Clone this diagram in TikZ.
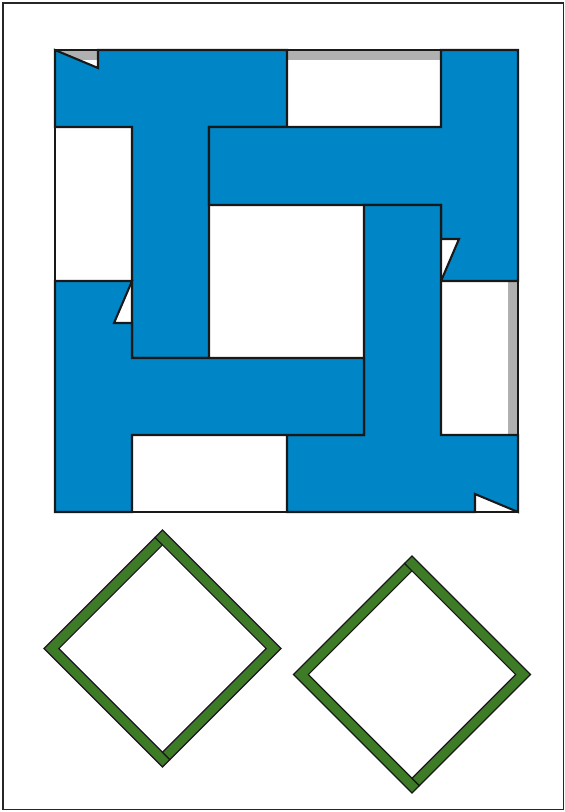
\documentclass[tikz,border=0pt]{standalone}
\usepackage{tikz}
\definecolor{tileblue}{RGB}{0,133,198}
\definecolor{framegreen}{RGB}{62,123,39}
\definecolor{shadowgray}{RGB}{176,176,176}
\tikzset{
  bluepiece/.style={fill=tileblue, draw=black!90, line width=2.1pt, line join=miter},
  graystrip/.style={fill=shadowgray, draw=none},
  greenbar/.style={fill=framegreen, draw=black!90, line width=1.2pt, line join=miter},
  pageframe/.style={draw=black!85, line width=1.6pt},
  squareframe/.style={draw=black!90, line width=2.6pt}
}
\newcommand{\diamondframe}[2]{%
  \begin{scope}[shift={(#1,#2)}]
    \def\R{118.5}\def\a{7.42}\def\s{14.85}
    \fill[white] (0,-\R) -- (\R,0) -- (0,\R) -- (-\R,0) -- cycle;
    \draw[greenbar] (-\a,-\R+\a) -- (-\R,0) -- (0,\R) -- (\a,\R-\a) -- (0,\R-\s) -- (-\R+\s,0) -- (0,-\R+\s) -- cycle;
    \draw[greenbar] (0,-\R) -- (\R,0) -- (\a,\R-\a) -- (0,\R-\s) -- (\R-\s,0) -- (0,-\R+\s) -- (-\a,-\R+\a) -- cycle;
  \end{scope}}
\begin{document}
\begin{tikzpicture}[x=1pt,y=-1pt]
\useasboundingbox (0,0) rectangle (565,812);
\fill[white] (0,0) rectangle (565,812);
\draw[pageframe] (3,3) rectangle (563.5,809.5);
% gray strips
\fill[graystrip] (55,50) rectangle (98,60);
\fill[graystrip] (287,50) rectangle (441,60);
\fill[graystrip] (508,281) rectangle (518,435);
% blue pieces
\draw[bluepiece] (55,50) -- (98,68) -- (98,50) -- (287,50) -- (287,127) -- (209,127) -- (209,358) -- (132,358) -- (132,127) -- (55,127) -- cycle;
\draw[bluepiece] (441,50) -- (518,50) -- (518,281) -- (441,281) -- (459,239) -- (441,239) -- (441,205) -- (209,205) -- (209,127) -- (441,127) -- cycle;
\draw[bluepiece] (364,205) -- (441,205) -- (441,435) -- (518,435) -- (518,512) -- (475,494) -- (475,512) -- (287,512) -- (287,435) -- (364,435) -- cycle;
\draw[bluepiece] (55,281) -- (132,281) -- (114,323) -- (132,323) -- (132,358) -- (364,358) -- (364,435) -- (132,435) -- (132,512) -- (55,512) -- cycle;
% white rectangle outlines
\draw[draw=black!90, line width=1.8pt] (287,50) rectangle (441,127);
\draw[draw=black!90, line width=1.8pt] (132,435) rectangle (287,512);
\draw[squareframe] (55,50) rectangle (518,512);
% green frames
\diamondframe{162.5}{648.5}
\diamondframe{412}{674.5}
\end{tikzpicture}
\end{document}
